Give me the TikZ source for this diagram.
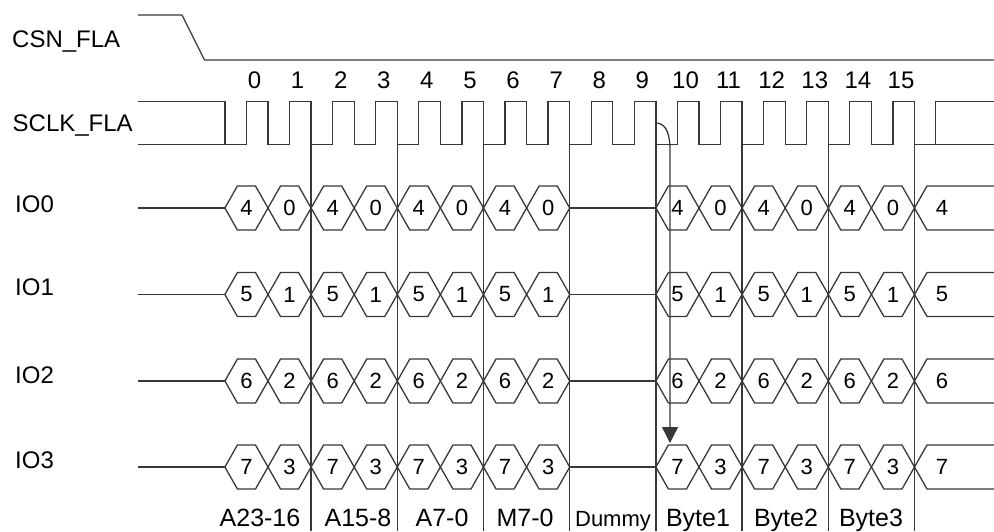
\documentclass[tikz,border=0pt]{standalone}
\usepackage{fontspec}
\setmainfont{Liberation Sans}
\usetikzlibrary{arrows.meta}
\newcommand\hexcell[5]{%
  \draw[sig] (#1,#3) -- ({#1+12.5},{#3-22}) -- ({#2-12.5},{#3-22}) -- (#2,#3) -- ({#2-12.5},{#3+22}) -- ({#1+12.5},{#3+22}) -- cycle;
  \node[dig] (#5) at ({(#1+#2)/2},#3) {#4};}
\begin{document}
\begin{tikzpicture}[x=1pt,y=-1pt,
  sig/.style={draw=black!78, line width=1.3pt, line join=miter},
  lbl/.style={font=\fontsize{24}{28}\selectfont, anchor=base west, inner sep=0pt},
  num/.style={font=\fontsize{24}{28}\selectfont, anchor=base, inner sep=0pt},
  dig/.style={font=\fontsize{22}{26}\selectfont, inner sep=0pt},
  sec/.style={font=\fontsize{25}{29}\selectfont, anchor=base, inner sep=0pt}]
\useasboundingbox (0,0) rectangle (994,531);
\clip (0,0) rectangle (994,531);
% signal names
\node[lbl] (lcsn) at (12,47) {CSN\_FLA};
\node[lbl] (lsclk) at (12.5,131.5) {SCLK\_FLA};
\node[lbl] (lio0) at (15,212) {IO0};
\node[lbl] (lio1) at (15,295) {IO1};
\node[lbl] (lio2) at (15,383) {IO2};
\node[lbl] (lio3) at (15,468) {IO3};
% CSN
\draw[sig] (138,15) -- (182,15) -- (204.5,60) -- (994,60);
% SCLK
\draw[sig] (138,101.5) -- (224.9,101.5) -- (224.9,144.5);
\draw[sig] (138,144.5) \foreach \k in {0,...,15} { -- ({246.4+43.1*\k},144.5) -- ({246.4+43.1*\k},101.5) -- ({268+43.1*\k},101.5) -- ({268+43.1*\k},144.5) } -- (994,144.5);
\draw[sig] (935.6,144.5) -- (935.6,101.5) -- (994,101.5);
% clock numbers
\foreach \k in {0,...,15} \node[num] (c\k) at ({254.5+43.1*\k},88) {\k};
% separators
\foreach \k in {1,3,...,15} \draw[sig] ({268+43.1*\k},101.5) -- ({268+43.1*\k},531);
% data rows
\foreach \yc/\hi/\lo/\r in {208/4/0/0, 294.5/5/1/1, 381/6/2/2, 467/7/3/3}{
  \draw[sig] (138,\yc) -- (224.9,\yc);
  \foreach \p in {0,1,2,3,5,6,7}{
    \pgfmathsetmacro\xa{224.9+86.2*\p}
    \pgfmathsetmacro\xb{\xa+43.1}
    \pgfmathsetmacro\xc{\xa+86.2}
    \hexcell{\xa}{\xb}{\yc}{\hi}{h\r a\p}
    \hexcell{\xb}{\xc}{\yc}{\lo}{h\r b\p}
  }
  \draw[sig] (569.7,\yc) -- (655.9,\yc);
  \draw[sig] (994,{\yc-22}) -- (927,{\yc-22}) -- (914.5,\yc) -- (927,{\yc+22}) -- (994,{\yc+22});
  \node[dig] (t\r) at (942,\yc) {\hi};
}
% arrow
\coordinate (e9) at (655.9,123);
\coordinate (tip) at (670,443);
\draw[sig,-{Triangle[length=16pt,width=16pt]}] (e9) to[out=0,in=90] (670,150) -- (tip);
% section labels
\node[sec] (s1) at (260,526.5) {A23-16};
\node[sec] (s2) at (358,526.5) {A15-8};
\node[sec] (s3) at (442,526.5) {A7-0};
\node[sec] (s4) at (525,526.5) {M7-0};
\node[sec,font=\fontsize{22}{26}\selectfont] (s5) at (613,526.5) {Dummy};
\node[sec] (s6) at (698,526.5) {Byte1};
\node[sec] (s7) at (786,526.5) {Byte2};
\node[sec] (s8) at (871,526.5) {Byte3};
\end{tikzpicture}
\end{document}
